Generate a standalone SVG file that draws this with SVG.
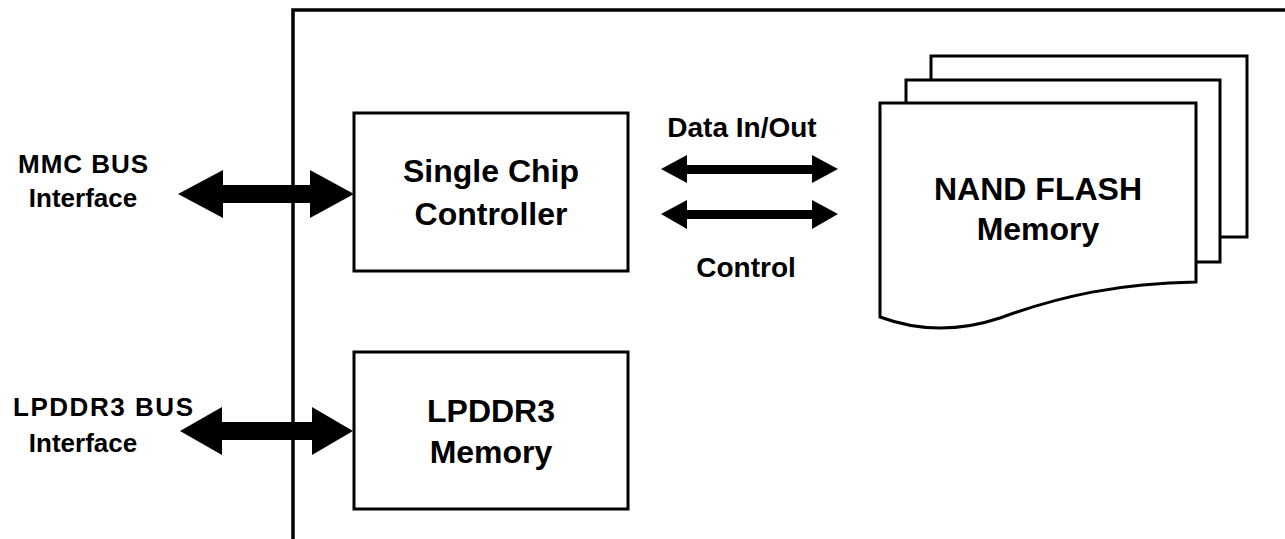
<svg xmlns="http://www.w3.org/2000/svg" width="1285" height="539" viewBox="0 0 1285 539">
  <style>
    .box { fill: #ffffff; stroke: #000000; stroke-width: 3; stroke-linejoin: miter; }
    .frame { fill: none; stroke: #000000; stroke-width: 3.5; stroke-linejoin: miter; }
    .bus { fill: #000000; stroke: none; }
    .lbl { font-family: "Liberation Sans", Arial, sans-serif; font-weight: bold; fill: #000000; text-anchor: middle; }
    .big { font-size: 32px; }
    .mid { font-size: 28px; }
    .sml { font-size: 26px; }
  </style>

  <!-- connectors: block double arrows -->
  <g id="connectors">
    <polygon class="bus" points="178,194 223,170 223,185 310,185 310,170 354,194 310,218 310,203 223,203 223,218"/>
    <polygon class="bus" points="180,431 222,407 222,422 312,422 312,407 353,431 312,455 312,440 222,440 222,455"/>
    <polygon class="bus" points="661,169 687,155 687,165 812,165 812,155 838,169 812,183 812,174 687,174 687,183"/>
    <polygon class="bus" points="661,214 687,200 687,210 812,210 812,200 838,214 812,229 812,219 687,219 687,229"/>
  </g>

  <!-- module outline -->
  <g id="module-frame">
    <path class="frame" d="M293,539 V10 H1285"/>
  </g>

  <!-- external interface labels -->
  <g id="mmc-bus">
    <text class="lbl sml" x="18" y="173" style="text-anchor:start" textLength="130" lengthAdjust="spacing">MMC BUS</text>
    <text class="lbl sml" x="83" y="207">Interface</text>
  </g>
  <g id="lpddr3-bus">
    <text class="lbl sml" x="13" y="416" style="text-anchor:start" textLength="180" lengthAdjust="spacing">LPDDR3 BUS</text>
    <text class="lbl sml" x="83" y="452">Interface</text>
  </g>

  <!-- controller -->
  <g id="controller">
    <rect class="box" x="354" y="113" width="274" height="158"/>
    <text class="lbl big" x="491" y="182">Single Chip</text>
    <text class="lbl big" x="491" y="225">Controller</text>
  </g>

  <!-- DRAM -->
  <g id="lpddr3-memory">
    <rect class="box" x="354" y="352" width="274" height="157"/>
    <text class="lbl big" x="491" y="422">LPDDR3</text>
    <text class="lbl big" x="491" y="463">Memory</text>
  </g>

  <!-- arrow labels -->
  <g id="data-label">
    <text class="lbl mid" x="742" y="137">Data In/Out</text>
  </g>
  <g id="control-label">
    <text class="lbl mid" x="746" y="277">Control</text>
  </g>

  <!-- stacked flash dies -->
  <g id="nand-flash">
    <rect class="box" x="931" y="56" width="316" height="181"/>
    <rect class="box" x="906" y="80" width="314" height="182"/>
    <path class="box" d="M880,103 H1196 V282 C1120,283 1060,296 1000,318 C955,333 915,330 880,317 Z"/>
    <text class="lbl big" x="1038" y="200">NAND FLASH</text>
    <text class="lbl big" x="1038" y="240">Memory</text>
  </g>
</svg>
